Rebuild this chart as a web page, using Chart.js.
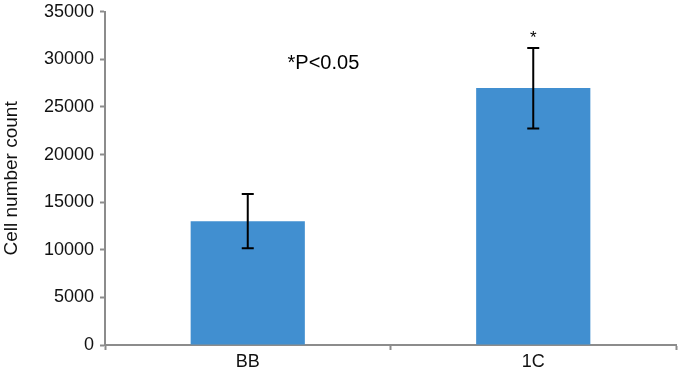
<!DOCTYPE html>
<html>
<head>
<meta charset="utf-8">
<script src="https://cdn.jsdelivr.net/npm/chart.js@4.4.1/dist/chart.umd.min.js"></script>
<style>
  html, body { margin: 0; padding: 0; background: #fff; overflow: hidden; }
  #wrap { position: relative; width: 681px; height: 376px; overflow: hidden; }
  #inner { position: absolute; left: 0; top: -5px; width: 681px; height: 381px; }
</style>
</head>
<body>
<div id="wrap"><div id="inner"><canvas id="cells"></canvas></div></div>
<script>
var groups = ['BB', '1C'];
var cellCounts = [13000, 27000];
var errLow = [10150, 22750];
var errHigh = [15850, 31200];
var yTicks = [0, 5000, 10000, 15000, 20000, 25000, 30000, 35000];
var marks = ['', '*'];
var note = '*P<0.05';

var axisGrey = '#8c8c8c';
var fontFamily = '"Liberation Sans", Arial, sans-serif';

// error bars + significance text, drawn through the scales
var errorBars = {
  id: 'errorBars',
  afterDatasetsDraw: function(chart) {
    var ctx = chart.ctx;
    var x = chart.scales.x;
    var y = chart.scales.y;
    ctx.save();
    ctx.strokeStyle = '#000';
    ctx.lineWidth = 2;
    for (var i = 0; i < groups.length; i++) {
      var px = x.getPixelForValue(i);
      var top = y.getPixelForValue(errHigh[i]);
      var bot = y.getPixelForValue(errLow[i]);
      ctx.beginPath();
      ctx.moveTo(px, top); ctx.lineTo(px, bot);
      ctx.moveTo(px - 6, top); ctx.lineTo(px + 6, top);
      ctx.moveTo(px - 6, bot); ctx.lineTo(px + 6, bot);
      ctx.stroke();
      if (marks[i]) {
        ctx.fillStyle = '#000';
        ctx.font = '17px ' + fontFamily;
        ctx.textAlign = 'center';
        ctx.textBaseline = 'bottom';
        ctx.fillText(marks[i], px, top - 1);
      }
    }
    ctx.fillStyle = '#000';
    ctx.font = '20px ' + fontFamily;
    ctx.textAlign = 'center';
    ctx.textBaseline = 'middle';
    ctx.fillText(note, x.getPixelForValue(0.265), y.getPixelForValue(29600));
    ctx.restore();
  }
};

var element = document.getElementById('cells').getContext('2d');

var chart = new Chart(element, {
  type: 'bar',
  data: {
    labels: groups,
    datasets: [{
      label: 'Cell number count',
      backgroundColor: 'rgb(65, 143, 208)',
      data: cellCounts,
      categoryPercentage: 0.4,
      barPercentage: 1.0
    }]
  },
  options: {
    responsive: true,
    maintainAspectRatio: false,
    animation: false,
    layout: { padding: { top: 0, right: 5, left: 0, bottom: 0 } },
    plugins: {
      legend: { display: false },
      tooltip: { enabled: false }
    },
    scales: {
      x: {
        grid: {
          offset: true,
          drawOnChartArea: false,
          tickLength: 5,
          tickColor: axisGrey,
          tickWidth: 2
        },
        border: { color: axisGrey, width: 2 },
        ticks: {
          color: '#111',
          padding: 1,
          font: { family: fontFamily, size: 18 }
        },
        afterFit: function(s) { s.height = 31; }
      },
      y: {
        min: 0,
        max: 35000,
        afterBuildTicks: function(s) {
          s.ticks = yTicks.map(function(v) { return { value: v }; });
        },
        grid: {
          drawOnChartArea: false,
          tickLength: 5,
          tickColor: axisGrey,
          tickWidth: 2
        },
        border: { color: axisGrey, width: 2 },
        ticks: {
          color: '#111',
          padding: 6,
          font: { family: fontFamily, size: 18 },
          callback: function(v) { return String(v); }
        },
        title: {
          display: true,
          text: 'Cell number count',
          color: '#111',
          padding: { top: 0, bottom: 2 },
          font: { family: fontFamily, size: 19 }
        },
        afterFit: function(s) { s.width = 105; }
      }
    }
  },
  plugins: [errorBars]
});
</script>
</body>
</html>
